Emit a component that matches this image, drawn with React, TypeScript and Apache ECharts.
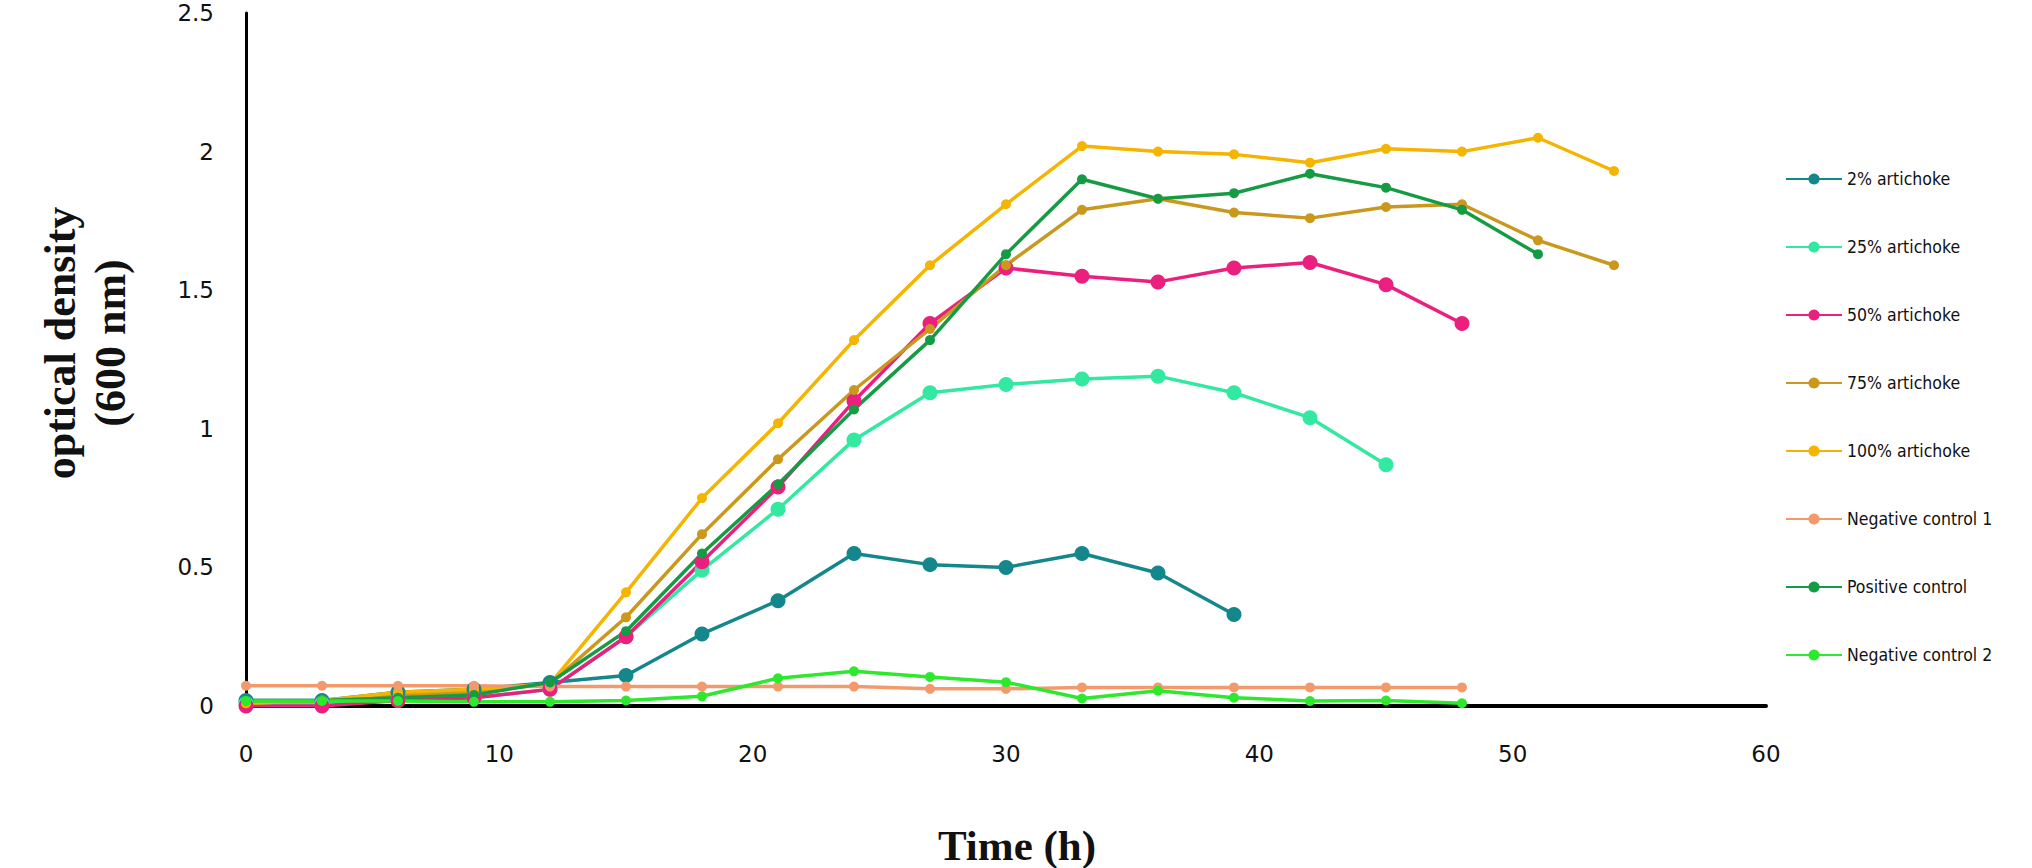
import React, { useEffect, useRef } from "react";
import * as echarts from "echarts";

const times = [0, 3, 6, 9, 12, 15, 18, 21, 24, 27, 30, 33, 36, 39, 42, 45, 48, 51, 54];

const seriesNames = [
  "2% artichoke",
  "25% artichoke",
  "50% artichoke",
  "75% artichoke",
  "100% artichoke",
  "Negative control 1",
  "Positive control",
  "Negative control 2",
];

const art2 = [0.02, 0.02, 0.05, 0.06, 0.085, 0.11, 0.26, 0.38, 0.55, 0.51, 0.5, 0.55, 0.48, 0.33];
const art25 = [0.01, 0.01, 0.02, 0.03, 0.06, 0.25, 0.49, 0.71, 0.96, 1.13, 1.16, 1.18, 1.19, 1.13, 1.04, 0.87];
const art50 = [0.0, 0.0, 0.02, 0.03, 0.06, 0.25, 0.52, 0.79, 1.1, 1.38, 1.58, 1.55, 1.53, 1.58, 1.6, 1.52, 1.38];
const art75 = [0.01, 0.02, 0.04, 0.05, 0.08, 0.32, 0.62, 0.89, 1.14, 1.36, 1.59, 1.79, 1.83, 1.78, 1.76, 1.8, 1.81, 1.68, 1.59];
const art100 = [0.01, 0.02, 0.05, 0.06, 0.08, 0.41, 0.75, 1.02, 1.32, 1.59, 1.81, 2.02, 2.0, 1.99, 1.96, 2.01, 2.0, 2.05, 1.93];
const negative1 = [0.073, 0.073, 0.073, 0.073, 0.07, 0.07, 0.07, 0.07, 0.07, 0.062, 0.062, 0.067, 0.067, 0.067, 0.067, 0.067, 0.067];
const positive = [0.02, 0.02, 0.03, 0.04, 0.085, 0.27, 0.55, 0.8, 1.07, 1.32, 1.63, 1.9, 1.83, 1.85, 1.92, 1.87, 1.79, 1.63];
const negative2 = [0.018, 0.018, 0.018, 0.015, 0.015, 0.02, 0.035, 0.1, 0.125, 0.105, 0.086, 0.027, 0.055, 0.03, 0.018, 0.02, 0.01];

const seriesValues = [art2, art25, art50, art75, art100, negative1, positive, negative2];
const seriesColors = ["#14878c", "#33e8a0", "#ea1f7e", "#c9981c", "#f4b400", "#f39a6c", "#169b45", "#2ee82e"];
const symbolSizes = [15, 15, 15, 10, 10, 10, 10, 10];

const xTicks = [0, 10, 20, 30, 40, 50, 60];
const yTicks = [0, 0.5, 1, 1.5, 2, 2.5];

export default function App() {
  const ref = useRef<HTMLDivElement>(null);

  useEffect(() => {
    document.body.style.margin = "0";
    if (!ref.current) return;
    const chart = echarts.init(ref.current, null, { renderer: "svg" });

    const series = seriesNames.map((name, i) => ({
      name,
      type: "line",
      data: seriesValues[i].map((v, j) => [times[j], v]),
      symbol: "circle",
      symbolSize: symbolSizes[i],
      showSymbol: true,
      lineStyle: { color: seriesColors[i], width: 3.5 },
      itemStyle: { color: seriesColors[i] },
      z: 2,
    }));

    chart.setOption({
      animation: false,
      backgroundColor: "#ffffff",
      grid: { left: 246, top: 13, right: 266, bottom: 162, containLabel: false },
      xAxis: {
        type: "value",
        min: xTicks[0],
        max: xTicks[xTicks.length - 1],
        interval: 10,
        axisLine: { show: true, onZero: false, lineStyle: { color: "#000", width: 4 } },
        axisTick: { show: false },
        splitLine: { show: false },
        axisLabel: { color: "#111", fontSize: 23, fontFamily: "DejaVu Sans", margin: 36 },
      },
      yAxis: {
        type: "value",
        min: yTicks[0],
        max: yTicks[yTicks.length - 1],
        interval: 0.5,
        axisLine: { show: true, lineStyle: { color: "#000", width: 3 } },
        axisTick: { show: false },
        splitLine: { show: false },
        axisLabel: { color: "#111", fontSize: 23, fontFamily: "DejaVu Sans", margin: 32 },
      },
      legend: {
        orient: "vertical",
        left: 1780,
        top: 160,
        itemWidth: 56,
        itemHeight: 14,
        itemGap: 40,
        textStyle: {
          fontSize: 17.5,
          fontFamily: "'DejaVu Sans Condensed', 'Liberation Sans', sans-serif",
          color: "#111",
          lineHeight: 28,
        },
        data: seriesNames,
      },
      graphic: [
        {
          type: "text",
          x: 60,
          y: 343,
          rotation: Math.PI / 2,
          style: {
            text: "optical density",
            font: "bold 44px 'Liberation Serif'",
            fill: "#111",
            align: "center",
            verticalAlign: "middle",
          },
        },
        {
          type: "text",
          x: 110,
          y: 343,
          rotation: Math.PI / 2,
          style: {
            text: "(600 nm)",
            font: "bold 44px 'Liberation Serif'",
            fill: "#111",
            align: "center",
            verticalAlign: "middle",
          },
        },
        {
          type: "text",
          x: 1017,
          y: 845,
          style: {
            text: "Time (h)",
            font: "bold 43px 'Liberation Serif'",
            fill: "#111",
            align: "center",
            verticalAlign: "middle",
          },
        },
      ],
      series,
    });

    return () => chart.dispose();
  }, []);

  return <div ref={ref} style={{ width: 2032, height: 868, overflow: "hidden" }} />;
}
